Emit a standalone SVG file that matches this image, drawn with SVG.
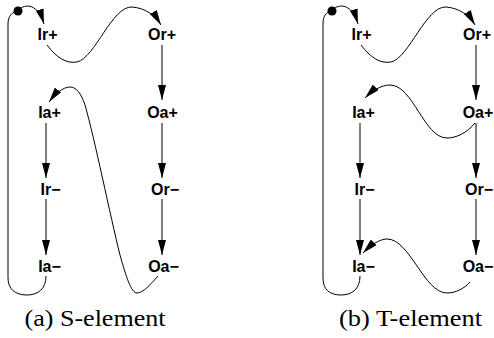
<svg xmlns="http://www.w3.org/2000/svg" width="494" height="338" viewBox="0 0 494 338">
  <style>
    .lbl { font-family: "Liberation Sans", Arial, sans-serif; font-weight: bold; font-size: 16px; text-anchor: middle; fill: #000; }
    .cap { font-family: "Liberation Serif", "Times New Roman", serif; font-size: 24px; text-anchor: middle; fill: #000; }
    .edge { fill: none; stroke: #000; stroke-width: 1; }
    .arr { marker-end: url(#ah); }
  </style>
  <defs>
    <marker id="ah" viewBox="0 0 15 8" refX="15" refY="4" markerWidth="15" markerHeight="8" markerUnits="userSpaceOnUse" orient="auto">
      <path d="M0,0 L15,4 L0,8 Z" fill="#000"/>
    </marker>
  </defs>

  <rect width="494" height="338" fill="#fff"/>

  <!-- (a) S-element -->
  <g id="diagram-a">
    <g id="a-connectors">
      <path class="edge" d="M46,276 C46,289 38,295 27,295 C15,295 8,289 8,278 L8,24 C8,16 12,12 18,11"/>
      <path class="edge arr" d="M18,10 C26,3 38,4 44,24"/>
      <path class="edge arr" d="M47,45 C56,57 66,64 77,62 C95,58 112,6 132,7 C145,8 155,15 161,25"/>
      <path class="edge arr" d="M162,45 L162,100"/>
      <path class="edge arr" d="M162,123 L162,178"/>
      <path class="edge arr" d="M162,199 L162,255"/>
      <path class="edge arr" d="M46,123 L46,178"/>
      <path class="edge arr" d="M46,199 L46,255"/>
      <path class="edge arr" d="M158,276 C150,285 143,293 137,293 C131,293 126,276 120,255 C110,215 95,140 85,105 C81,93 76,87 70,87 C63,87 55,94 49,102"/>
    </g>
    <circle id="a-start" cx="18" cy="11" r="4.5" fill="#000"/>
    <g id="a-Ir-plus"><text class="lbl" x="47.5" y="40">Ir+</text></g>
    <g id="a-Or-plus"><text class="lbl" x="162" y="40">Or+</text></g>
    <g id="a-Ia-plus"><text class="lbl" x="49.5" y="117.5">Ia+</text></g>
    <g id="a-Oa-plus"><text class="lbl" x="162.5" y="117.5">Oa+</text></g>
    <g id="a-Ir-minus"><text class="lbl" x="50.5" y="195">Ir−</text></g>
    <g id="a-Or-minus"><text class="lbl" x="165" y="195">Or−</text></g>
    <g id="a-Ia-minus"><text class="lbl" x="49.5" y="272">Ia−</text></g>
    <g id="a-Oa-minus"><text class="lbl" x="163.5" y="272">Oa−</text></g>
    <text class="cap" x="95" y="326" textLength="141" lengthAdjust="spacingAndGlyphs">(a) S-element</text>
  </g>

  <!-- (b) T-element -->
  <g id="diagram-b" transform="translate(314,0)">
    <g id="b-connectors">
      <path class="edge" d="M46,276 C46,289 38,295 27,295 C15,295 9,289 9,278 L9,24 C9,16 12,12 18,11"/>
      <path class="edge arr" d="M18,10 C26,3 38,4 44,24"/>
      <path class="edge arr" d="M47,45 C56,57 66,64 77,62 C95,58 112,6 132,7 C145,8 155,15 161,25"/>
      <path class="edge arr" d="M162,45 L162,100"/>
      <path class="edge arr" d="M162,123 L162,178"/>
      <path class="edge arr" d="M162,199 L162,255"/>
      <path class="edge arr" d="M46,123 L46,178"/>
      <path class="edge arr" d="M46,199 L46,255"/>
      <path class="edge arr" d="M161,123 C153,133 142,138 133,138 C110,138 99,85 76,85 C67,85 58,91 51,98"/>
      <path class="edge arr" d="M156,282 C150,289 141,293 133,293 C110,293 96,239 73,239 C65,239 56,246 49,253"/>
    </g>
    <circle id="b-start" cx="18" cy="11" r="4.5" fill="#000"/>
    <g id="b-Ir-plus"><text class="lbl" x="47.5" y="40">Ir+</text></g>
    <g id="b-Or-plus"><text class="lbl" x="163" y="40">Or+</text></g>
    <g id="b-Ia-plus"><text class="lbl" x="49.5" y="117.5">Ia+</text></g>
    <g id="b-Oa-plus"><text class="lbl" x="164" y="117.5">Oa+</text></g>
    <g id="b-Ir-minus"><text class="lbl" x="50.5" y="195">Ir−</text></g>
    <g id="b-Or-minus"><text class="lbl" x="165" y="195">Or−</text></g>
    <g id="b-Ia-minus"><text class="lbl" x="49.5" y="272">Ia−</text></g>
    <g id="b-Oa-minus"><text class="lbl" x="164" y="272">Oa−</text></g>
    <text class="cap" x="96.5" y="326" textLength="143" lengthAdjust="spacingAndGlyphs">(b) T-element</text>
  </g>
</svg>
